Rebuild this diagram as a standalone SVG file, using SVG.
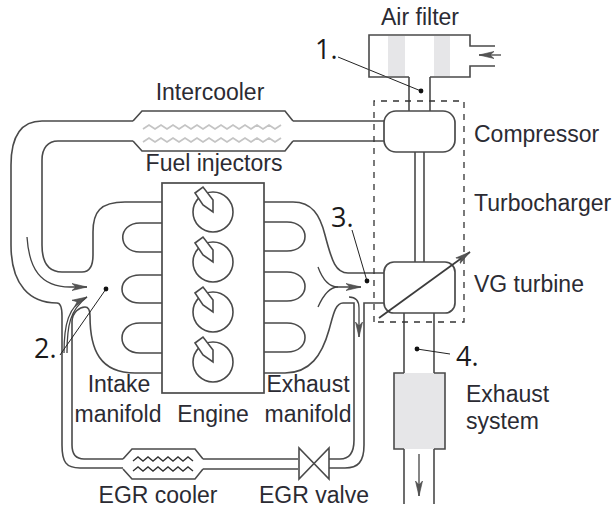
<svg xmlns="http://www.w3.org/2000/svg" width="615" height="508" viewBox="0 0 615 508">
<defs>
<marker id="open" markerWidth="16" markerHeight="10" refX="15" refY="5" orient="auto" markerUnits="userSpaceOnUse"><path d="M0 1.5 L15 5 L0 8.5 L4 5 Z" fill="#555" stroke="#444" stroke-width="0.6"/></marker>
</defs>
<style>
.l{fill:none;stroke:#4a4a4a;stroke-width:1.6}
.box{fill:#fff;stroke:#4a4a4a;stroke-width:1.7}
.f{fill:none;stroke:#444;stroke-width:1.3}
.t{font-family:"Liberation Sans",Arial,sans-serif;font-size:23px;fill:#2b2b33}
.n{font-family:"Open Sans","Liberation Sans",sans-serif;font-size:27px;fill:#1a1a1a}
.lead{fill:none;stroke:#222;stroke-width:1}
.g{fill:#e6e6e8;stroke:none}
</style>
<rect width="615" height="508" fill="#fff"/>
<g id="connectors">
<path class="l" d="M133 121H42C22 121 11 135 11 165V245C11 285 30 303 57 303C61 303 62 308 62 316V445C62 462 66 468 80 468H123"/>
<path class="l" d="M133 141H58C48 141 42 148 42 160V245C42 262 48 272 62 272H82C90 272 93 266 93 255V232C93 212 100 202 125 202H162"/>
<path class="l" d="M123 459H84C76 459 72 454 72 445V322C72 312 80 307 85 307C89 307 90 310 90 316C90 350 100 373 135 373H162"/>
<path class="l" d="M203 459H298M203 469H298"/>
<path class="l" d="M329 459H340C350 459 354 452 354 440V303H343C335 303 333 316 329 330C322 355 310 373 285 373H264"/>
<path class="l" d="M329 468H345C358 468 364 462 364 445V303H384"/>
<path class="l" d="M264 202H293C312 202 320 215 325 235C332 262 336 273 348 273H384"/>
<path class="l" d="M293 121H384M293 141H384"/>
<path class="l" d="M162 223H140C117 223 117 252 140 252H162M162 275H140C116 275 116 303 140 303H162M162 323H140C116 323 116 353 140 353H162"/>
<path class="l" d="M264 222H287C311 222 311 251 287 251H264M264 272H287C311 272 311 301 287 301H264M264 323H287C311 323 311 352 287 352H264"/>
<path class="l" d="M409 77V111M430 77V111M415 152V262M424 152V262"/>
<path class="l" d="M404 313V373M434 313V373M404 449V504M434 449V504"/>
<path class="f" d="M27 237C29 268 40 287 70 287H87" marker-end="url(#open)"/>
<path class="f" d="M64 353C64 325 68 306 87 297" marker-end="url(#open)"/>
<path class="f" d="M67 353C67 325 70 310 87 297"/>
<path class="f" d="M318 267C322 278 328 287 338 287H361" marker-end="url(#open)"/>
<path class="f" d="M318 307C322 298 328 287 338 287"/>
<path class="f" d="M349 297C355 297 359 300 359 308V337" marker-end="url(#open)"/>
<path class="f" d="M419 454V496" marker-end="url(#open)"/>
<path class="f" d="M501 55H479" marker-end="url(#open)"/>
<path class="lead" d="M338 57L421 91M60 355L106 289M352 230L367 281M417 349L450 354"/>
<g fill="#111"><circle cx="421" cy="91" r="2.4"/><circle cx="106" cy="289" r="2.4"/><circle cx="367" cy="281" r="2.4"/><circle cx="417" cy="349" r="2.4"/></g>
</g>
<path d="M374 322V101H464V322H378" fill="none" stroke="#333" stroke-width="1.3" stroke-dasharray="6 6"/>
<g id="air-filter">
<path class="g" d="M388 36h17v40h-17zM434 36h16v40h-16z"/>
<path class="l" d="M495 46H470V35H369V77H409M430 77H470V66H495"/>
</g>
<g id="compressor"><rect class="box" x="384" y="111" width="71" height="41" rx="12"/></g>
<g id="turbine">
<rect class="box" x="384" y="262" width="71" height="51" rx="10"/>
<path d="M379 318L470 252" fill="none" stroke="#3c3c3c" stroke-width="1.8" marker-end="url(#open)"/>
</g>
<g id="intercooler">
<path class="l" d="M133 121L142 111H285L293 121M133 141L142 151H285L293 141"/>
<path d="M143 129l6-4 6 4 6-4 6 4 6-4 6 4 6-4 6 4 6-4 6 4 6-4 6 4 6-4 6 4 6-4 6 4 6-4 6 4 6-4 6 4 6-4 6 4 6-4M143 142l6-4 6 4 6-4 6 4 6-4 6 4 6-4 6 4 6-4 6 4 6-4 6 4 6-4 6 4 6-4 6 4 6-4 6 4 6-4 6 4 6-4 6 4 6-4" fill="none" stroke="#c4c4c4" stroke-width="1.8"/>
</g>
<g id="engine">
<rect class="box" x="162" y="183" width="102" height="210"/>
<g fill="#fff" stroke="#4a4a4a" stroke-width="1.6">
<circle cx="213" cy="212" r="20"/><circle cx="213" cy="262" r="20"/><circle cx="213" cy="312" r="20"/><circle cx="213" cy="362" r="20"/>
<path d="M195 193l8-6 10 13v12l-10-7z"/><path d="M195 243l8-6 10 13v12l-10-7z"/><path d="M195 293l8-6 10 13v12l-10-7z"/><path d="M195 343l8-6 10 13v12l-10-7z"/>
</g>
</g>
<g id="exhaust-system"><path class="g" d="M394 373h51v76h-51z"/><path class="l" d="M404 373H394V449H404M434 373H445V449H434"/></g>
<g id="egr-cooler">
<path class="l" d="M123 459L132 449H195L203 459M123 469L132 479H195L203 469"/>
<path d="M133 461l5-4 5 4 5-4 5 4 5-4 5 4 5-4 5 4 5-4 5 4 5-4 5 4M133 471l5-4 5 4 5-4 5 4 5-4 5 4 5-4 5 4 5-4 5 4 5-4 5 4" fill="none" stroke="#333" stroke-width="1.4"/>
</g>
<g id="egr-valve"><path class="l" d="M299 448V479L329 448V479Z"/></g>
<g id="labels">
<text class="t" x="420" y="25" text-anchor="middle">Air filter</text>
<text class="t" x="210" y="100" text-anchor="middle">Intercooler</text>
<text class="t" x="474" y="142">Compressor</text>
<text class="t" x="214" y="171" text-anchor="middle">Fuel injectors</text>
<text class="t" x="474" y="211">Turbocharger</text>
<text class="t" x="474" y="292">VG turbine</text>
<text class="t" x="119" y="392" text-anchor="middle">Intake</text>
<text class="t" x="118" y="422" text-anchor="middle">manifold</text>
<text class="t" x="213" y="422" text-anchor="middle">Engine</text>
<text class="t" x="308" y="392" text-anchor="middle">Exhaust</text>
<text class="t" x="308" y="422" text-anchor="middle">manifold</text>
<text class="t" x="466" y="402">Exhaust</text>
<text class="t" x="466" y="429">system</text>
<text class="t" x="158" y="503" text-anchor="middle">EGR cooler</text>
<text class="t" x="314" y="503" text-anchor="middle">EGR valve</text>
<text class="n" x="315" y="59">1.</text>
<text class="n" x="34" y="358">2.</text>
<text class="n" x="331" y="227">3.</text>
<text class="n" x="456" y="366">4.</text>
</g>
</svg>
